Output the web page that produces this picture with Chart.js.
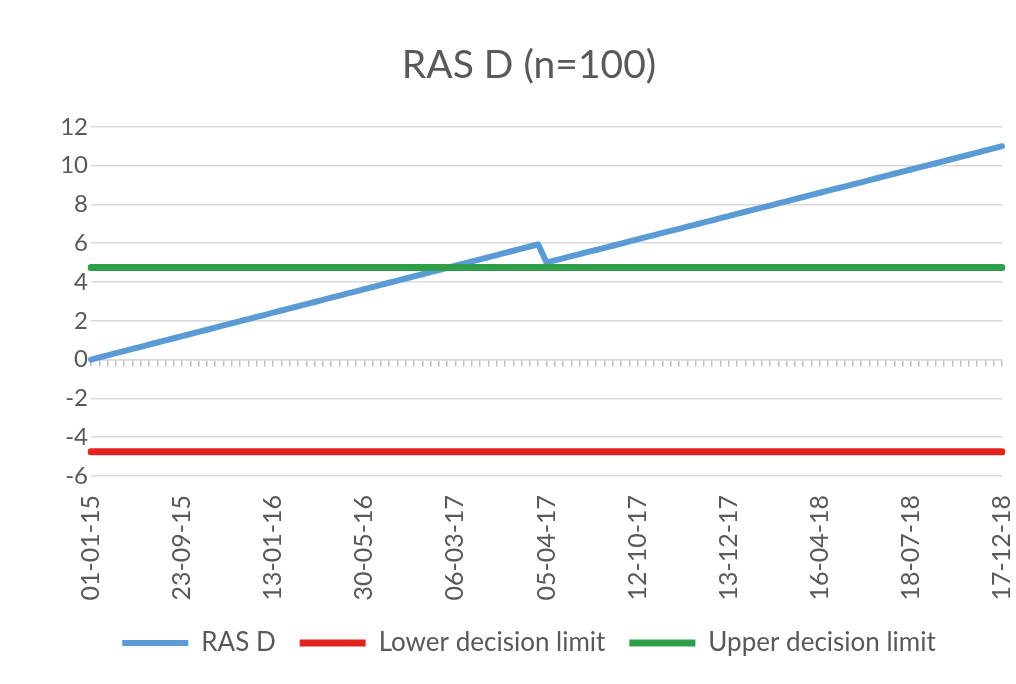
<!DOCTYPE html>
<html>
<head>
<meta charset="utf-8">
<script src="https://cdn.jsdelivr.net/npm/chart.js@4"></script>
<style>
  body { margin: 0; background: #fff; }
  #wrap { width: 1016px; height: 684px; }
</style>
</head>
<body>
<div id="wrap"><canvas id="chart" width="1016" height="684"></canvas></div>
<script>
/* datos */
const tickDates = [
    "01-01-15", "23-09-15", "13-01-16", "30-05-16", "06-03-17", "05-04-17",
    "12-10-17", "13-12-17", "16-04-18", "18-07-18", "17-12-18"
]

const rasD = [
    0, 0.11, 0.22, 0.33, 0.44, 0.55, 0.66, 0.77, 0.88, 0.99,
    1.10, 1.21, 1.32, 1.43, 1.54, 1.65, 1.76, 1.87, 1.98, 2.09,
    2.20, 2.31, 2.42, 2.53, 2.64, 2.75, 2.86, 2.97, 3.08, 3.19,
    3.30, 3.41, 3.52, 3.63, 3.74, 3.85, 3.96, 4.07, 4.18, 4.29,
    4.40, 4.51, 4.62, 4.73, 4.84, 4.95, 5.06, 5.17, 5.28, 5.39,
    5.50, 5.61, 5.72, 5.83, 5.94,
    5.00, 5.11, 5.22, 5.33, 5.44, 5.55, 5.65, 5.76, 5.87, 5.98,
    6.09, 6.20, 6.31, 6.42, 6.53, 6.64, 6.74, 6.85, 6.96, 7.07,
    7.18, 7.29, 7.40, 7.51, 7.62, 7.73, 7.83, 7.94, 8.05, 8.16,
    8.27, 8.38, 8.49, 8.60, 8.71, 8.82, 8.92, 9.03, 9.14, 9.25,
    9.36, 9.47, 9.58, 9.69, 9.80, 9.91, 10.01, 10.12, 10.23, 10.34,
    10.45, 10.56, 10.67, 10.78, 10.89, 11.00
]

const lowerLimit = -4.75
const upperLimit = 4.75

const yTicks = [-6, -4, -2, 0, 2, 4, 6, 8, 10, 12]

/* una etiqueta cada 11 puntos, como en el original */
const categories = rasD.map((v, i) => i % 11 === 0 ? tickDates[i / 11] : "")

Chart.defaults.font.family = "Lato"
Chart.defaults.color = "#595959"

const ctx = document.querySelector("#chart").getContext("2d")

const chart = new Chart(ctx, {
    type: "line",
    data: {
        labels: categories,
        datasets: [
            {
                label: "RAS D",
                data: rasD,
                borderColor: "#5b9bd5",
                backgroundColor: "#5b9bd5",
                borderWidth: 6,
                borderCapStyle: "round",
                borderJoinStyle: "round",
                pointRadius: 0,
                tension: 0,
                order: 3,
            },
            {
                label: "Lower decision limit",
                data: rasD.map(() => lowerLimit),
                borderColor: "#e3231d",
                backgroundColor: "#e3231d",
                borderWidth: 7,
                borderCapStyle: "round",
                pointRadius: 0,
                order: 2,
            },
            {
                label: "Upper decision limit",
                data: rasD.map(() => upperLimit),
                borderColor: "#2e9f48",
                backgroundColor: "#2e9f48",
                borderWidth: 7,
                borderCapStyle: "round",
                pointRadius: 0,
                order: 1,
            },
        ]
    },
    options: {
        responsive: false,
        animation: false,
        devicePixelRatio: 1,
        layout: { padding: { left: 44, right: 2, top: 0, bottom: 18 } },
        plugins: {
            title: {
                display: true,
                text: "RAS D (n=100)",
                font: { size: 39, weight: "normal" },
                color: "#595959",
                padding: { top: 42, bottom: 38 },
            },
            legend: {
                position: "bottom",
                labels: {
                    usePointStyle: true,
                    pointStyle: "line",
                    pointStyleWidth: 66,
                    padding: 24,
                    font: { size: 26 },
                    color: "#595959",
                    sort: (a, b) => a.datasetIndex - b.datasetIndex,
                },
            },
            tooltip: { enabled: false },
        },
        scales: {
            x: {
                offset: false,
                grid: { display: false, drawTicks: false },
                border: { display: false },
                afterFit: (axis) => {
                    axis.height = 130
                    axis.paddingLeft = 0
                    axis.paddingRight = 14
                },
                ticks: {
                    autoSkip: false,
                    maxRotation: 90,
                    minRotation: 90,
                    padding: 19,
                    font: { size: 25 },
                    color: "#595959",
                },
            },
            /* eje en y=0 solo para las marquitas */
            x2: {
                type: "category",
                position: { y: 0 },
                offset: false,
                grid: { drawOnChartArea: false, drawTicks: true, tickLength: 6, color: "#c0c0c0", lineWidth: 1.5 },
                border: { display: true, color: "#d9d9d9", width: 1.5 },
                ticks: { display: false, autoSkip: false },
            },
            y: {
                min: yTicks[0],
                max: yTicks[yTicks.length - 1],
                afterBuildTicks: (axis) => { axis.ticks = yTicks.map(v => ({ value: v })) },
                afterFit: (axis) => { axis.width = 47 },
                grid: { color: "#d9d9d9", lineWidth: 1.5, drawTicks: false },
                border: { display: false },
                ticks: {
                    padding: 3,
                    font: { size: 24 },
                    color: "#595959",
                },
            },
        },
    },
})
</script>
</body>
</html>
